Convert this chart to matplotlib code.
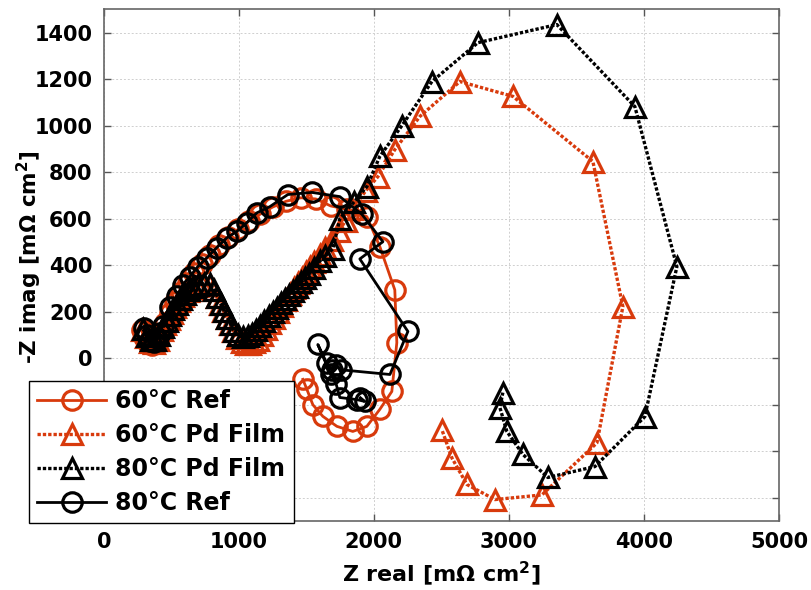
import matplotlib
matplotlib.use('Agg')
import matplotlib.pyplot as plt

# ── data (Nyquist plot) ──────────────────────────────────────────────────────
ref60_x = [280, 300, 330, 360, 390, 420, 450, 490, 530, 575, 620, 670, 725,
           785, 850, 920, 995, 1075, 1160, 1250, 1350, 1460, 1570, 1680, 1800,
           1948, 2044, 2155, 2170, 2133, 2044, 1948, 1844, 1726, 1622, 1548,
           1504, 1474]
ref60_y = [120, 90, 65, 55, 70, 105, 150, 195, 240, 285, 325, 365, 405, 445,
           485, 520, 555, 590, 620, 650, 675, 690, 685, 655, 640, 609, 480,
           294, 67, -143, -220, -293, -315, -293, -250, -200, -134, -91]

pd60_x = [280, 310, 340, 370, 400, 430, 455, 480, 505, 530, 560, 590, 620,
          650, 690, 730, 785, 810, 835, 860, 885, 910, 935, 960, 990, 1020,
          1050, 1080, 1110, 1140, 1170, 1200, 1230, 1260, 1290, 1320, 1350,
          1380, 1410, 1440, 1470, 1500, 1530, 1560, 1600, 1640, 1690, 1740,
          1790, 1840, 1940, 2030, 2155, 2341, 2637, 3030, 3622, 3844, 3652,
          3244, 2896, 2689, 2578, 2504]
pd60_y = [120, 90, 70, 65, 80, 120, 145, 170, 195, 220, 245, 268, 288, 302,
          312, 318, 317, 295, 265, 235, 205, 175, 145, 115, 85, 70, 62, 62,
          68, 80, 100, 125, 150, 175, 200, 225, 250, 275, 300, 322, 345, 370,
          392, 415, 445, 472, 510, 548, 590, 640, 720, 781, 897, 1040, 1190,
          1126, 846, 222, -364, -588, -608, -543, -429, -308]

pd80_x = [290, 320, 350, 380, 410, 440, 465, 490, 515, 540, 570, 600, 630,
          660, 700, 740, 790, 815, 840, 865, 890, 915, 940, 965, 995, 1030,
          1070, 1100, 1130, 1160, 1190, 1220, 1250, 1280, 1310, 1340, 1370,
          1400, 1430, 1460, 1490, 1520, 1560, 1600, 1640, 1696, 1748, 1850,
          1948, 2044, 2207, 2430, 2770, 3355, 3933, 4244, 4007, 3637, 3289,
          3104, 2985, 2933, 2955]
pd80_y = [125, 95, 80, 80, 100, 135, 160, 185, 210, 232, 255, 278, 295, 305,
          315, 320, 318, 295, 265, 235, 205, 175, 145, 118, 98, 90, 95, 105,
          120, 140, 160, 180, 200, 218, 236, 254, 272, 290, 308, 326, 344,
          362, 390, 418, 440, 470, 600, 670, 738, 868, 1000, 1190, 1357, 1435,
          1082, 394, -251, -466, -513, -414, -315, -212, -148]

ref80_x = [300, 320, 345, 370, 393, 415, 437, 489, 541, 585, 637, 696, 763,
           837, 911, 985, 1059, 1133, 1230, 1363, 1541, 1748, 1911, 2067,
           1896, 2252, 2119, 1760, 1720, 1690, 1650, 1585, 1680, 1720, 1748,
           1874, 1933, 1900]
ref80_y = [130, 100, 75, 70, 85, 110, 140, 222, 266, 317, 351, 394, 432, 476,
           518, 545, 583, 625, 652, 704, 713, 695, 619, 501, 427, 115, -70,
           -50, -30, -50, -20, 59, -70, -110, -169, -178, -186, -170]

labels = ['60°C Ref', '60°C Pd Film', '80°C Pd Film', '80°C Ref']

# ── style ────────────────────────────────────────────────────────────────────
plt.rcParams.update({
    'font.family': 'DejaVu Sans',
    'font.weight': 'bold',
    'mathtext.fontset': 'dejavusans',
    'mathtext.default': 'bf',
})

red = '#D83A0C'
dots = (0, (1.0, 0.6))

fig = plt.figure(figsize=(8.11, 5.90), dpi=100)
ax = fig.add_axes([0.128, 0.117, 0.8325, 0.867])

common = dict(markerfacecolor='none', markeredgewidth=2.3)
ax.plot(ref60_x, ref60_y, color=red, linestyle='-', linewidth=2.0,
        marker='o', markersize=14, markeredgecolor=red, label=labels[0], **common)
ax.plot(pd60_x, pd60_y, color=red, linestyle=dots, linewidth=2.4,
        marker='^', markersize=15, markeredgecolor=red, label=labels[1], **common)
ax.plot(pd80_x, pd80_y, color='black', linestyle=dots, linewidth=2.4,
        marker='^', markersize=15, markeredgecolor='black', label=labels[2], **common)
ax.plot(ref80_x, ref80_y, color='black', linestyle='-', linewidth=2.0,
        marker='o', markersize=14, markeredgecolor='black', label=labels[3], **common)

ax.set_xlim(0, 5000)
ax.set_ylim(-700, 1500)
ax.set_xticks(range(0, 5001, 1000))
ax.set_yticks(range(-600, 1401, 200))
ax.tick_params(direction='in', top=True, right=True, length=5, width=1,
               color='#555555', labelsize=15, pad=8)
for lab in ax.get_xticklabels() + ax.get_yticklabels():
    lab.set_fontweight('bold')
for sp in ax.spines.values():
    sp.set_color('#666666')
    sp.set_linewidth(1.2)
ax.grid(True, linestyle=(0, (2, 2)), linewidth=0.7, color='#cfcfcf')
ax.set_axisbelow(True)

ax.set_xlabel('Z real [m$\\Omega$ cm$^2$]', fontsize=16, fontweight='bold',
              labelpad=5)
ax.set_ylabel('-Z imag [m$\\Omega$ cm$^2$]', fontsize=15.5, fontweight='bold')
ax.yaxis.set_label_coords(-0.088, 0.515)

fig.legend(loc='upper left', bbox_to_anchor=(0.036, 0.354),
           borderaxespad=0, handlelength=2.9,
           handletextpad=0.4, labelspacing=0.42, borderpad=0.35,
           fancybox=False, framealpha=1, edgecolor='black',
           prop={'weight': 'bold', 'size': 17})

fig.savefig('out.png', dpi=100)
